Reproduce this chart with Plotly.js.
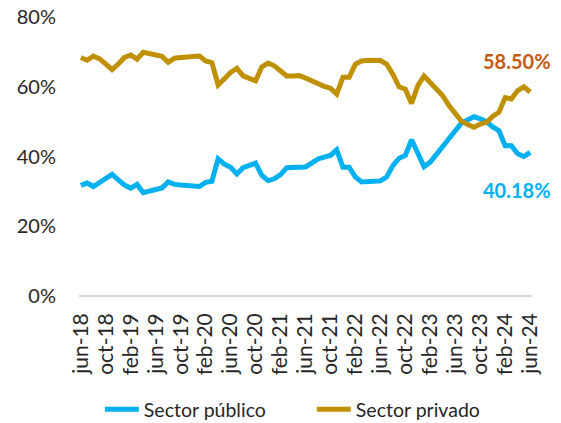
<!DOCTYPE html>
<html>
<head>
<meta charset="utf-8">
<script src="https://cdn.plot.ly/plotly-3.0.1.min.js"></script>
<style>html,body{margin:0;padding:0;background:#fff;}#chart{width:561px;height:423px;}</style>
</head>
<body>
<div id="chart"></div>
<script>
const months = ["jun","jul","ago","sep","oct","nov","dic","ene","feb","mar","abr","may"];
const startYear = 18;
const nPoints = 73;
const categories = [];
for (let i = 0; i < nPoints; i++) {
  const m = i % 12;
  const y = startYear + Math.floor((i + 5) / 12);
  categories.push(months[m] + "-" + y);
}
const tickLabels = ["jun-18","oct-18","feb-19","jun-19","oct-19","feb-20","jun-20","oct-20","feb-21","jun-21","oct-21","feb-22","jun-22","oct-22","feb-23","jun-23","oct-23","feb-24","jun-24"];
const tickIndex = tickLabels.map((t, k) => k * 4);

const sectorPublico = [31.7,32.4,31.4,32.5,34.0,34.9,33.3,31.8,30.9,32.0,29.6,30.0,30.5,31.0,32.7,32.0,31.8,31.7,31.6,31.4,32.6,32.9,39.3,37.8,36.9,35.0,36.8,37.4,38.1,34.6,33.1,33.6,34.8,36.8,36.9,36.9,37.0,38.1,39.3,39.8,40.3,41.9,36.9,36.9,34.1,32.7,32.7,32.7,33.0,34.1,37.4,39.5,40.3,44.8,40.8,37.1,38.4,40.8,42.7,45.5,47.4,49.6,50.5,51.4,50.8,50.0,48.5,47.4,43.1,43.1,40.8,40.0,41.2];
const sectorPrivado = [68.4,67.6,68.8,68.0,66.5,64.9,66.5,68.4,69.1,67.9,69.9,69.5,69.0,68.7,67.0,68.2,68.4,68.6,68.7,68.8,67.4,66.9,60.5,62.5,64.1,65.3,63.1,62.4,61.7,65.7,66.8,66.0,64.7,63.1,63.1,63.2,62.5,61.7,60.6,60.1,59.6,57.9,62.7,62.7,66.5,67.4,67.6,67.6,67.5,66.5,63.6,60.0,59.3,55.2,60.3,63.1,61.2,58.9,57.4,54.6,52.2,50.1,49.2,48.4,49.3,49.8,51.5,52.7,56.9,56.5,58.9,60.0,58.5];
const lastPublicoLabel = "40.18%";
const lastPrivadoLabel = "58.50%";

const xIdx = categories.map((c, i) => i);
const font = "Lato, 'Open Sans', sans-serif";

const traces = [
  {x: xIdx, y: sectorPublico, type: "scatter", mode: "lines", name: "Sector público",
   line: {color: "#00B0F0", width: 5}},
  {x: xIdx, y: sectorPrivado, type: "scatter", mode: "lines", name: "Sector privado",
   line: {color: "#BF9000", width: 5}}
];

const layout = {
  width: 561, height: 423,
  margin: {l: 79, r: 29, t: 17, b: 127},
  paper_bgcolor: "#fff", plot_bgcolor: "#fff",
  font: {family: font, size: 18, color: "#262626"},
  showlegend: true,
  legend: {orientation: "h", x: 0.046, xanchor: "left", xref: "paper",
           y: 0.032, yanchor: "middle", yref: "container", entrywidth: 163,
           font: {family: font, size: 19.5, color: "#262626"}, itemwidth: 34, traceorder: "normal"},
  xaxis: {range: [-0.3, 72.3], tickmode: "array", tickvals: tickIndex, ticktext: tickLabels,
          tickangle: -90, showgrid: false, zeroline: false, showline: false, ticks: "",
          automargin: false, ticklabelstandoff: 12,
          tickfont: {family: font, size: 21, color: "#262626"}, fixedrange: true},
  yaxis: {range: [0, 80], tickvals: [0,20,40,60,80], ticktext: ["0%","20%","40%","60%","80%"],
          showgrid: false, zeroline: true, zerolinecolor: "#D9D9D9", zerolinewidth: 1.5,
          showline: false, ticks: "", ticklabelstandoff: 22, automargin: false,
          tickfont: {family: font, size: 20, color: "#262626"}, fixedrange: true},
  annotations: [
    {x: 72, y: sectorPrivado[72], xref: "x", yref: "y", text: "<b>" + lastPrivadoLabel + "</b>",
     showarrow: false, xanchor: "right", yanchor: "middle", xshift: 23, yshift: 31,
     font: {family: font, size: 20, color: "#C55A11"}},
    {x: 72, y: sectorPublico[72], xref: "x", yref: "y", text: "<b>" + lastPublicoLabel + "</b>",
     showarrow: false, xanchor: "right", yanchor: "middle", xshift: 23, yshift: -38,
     font: {family: font, size: 20, color: "#00B0F0"}}
  ]
};

Plotly.newPlot("chart", traces, layout, {displayModeBar: false, staticPlot: true});
</script>
</body>
</html>
